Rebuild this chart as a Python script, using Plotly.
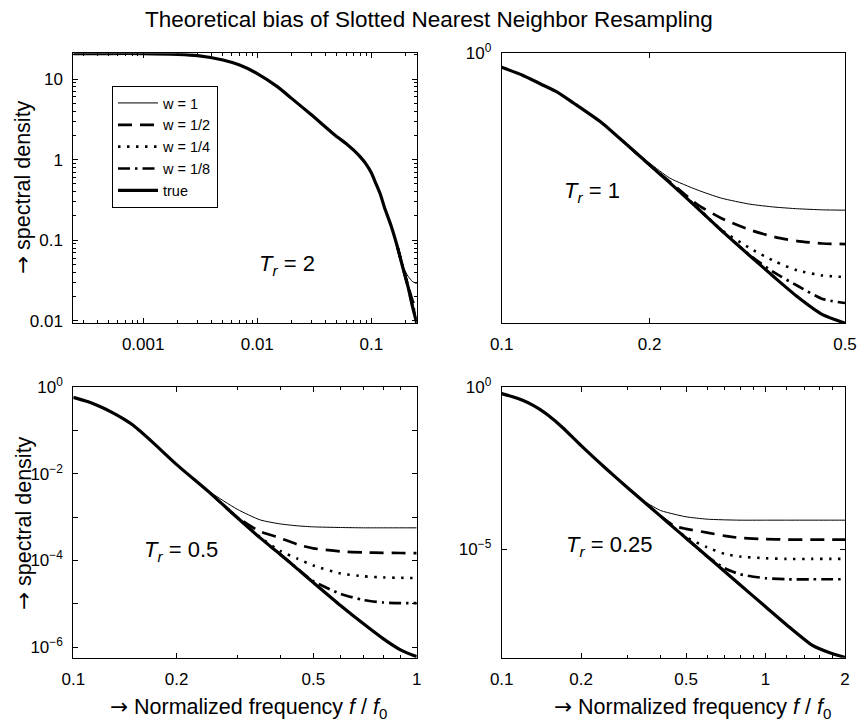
import plotly.graph_objects as go

# ---------------- data ----------------
# Panel Tr = 2
tl_f = [0.000244, 0.0005, 0.001, 0.002, 0.003, 0.005, 0.007, 0.01, 0.015, 0.02, 0.03,
        0.05, 0.06, 0.07, 0.08, 0.09, 0.1, 0.11, 0.12, 0.13, 0.15, 0.17, 0.19, 0.21, 0.23, 0.25]
tl_true = [20.7, 20.7, 20.7, 20.2, 19.5, 17.2, 14.9, 11.7, 8.04, 5.75, 3.57,
           1.92, 1.59, 1.31, 1.08, 0.879, 0.686, 0.50, 0.372, 0.259, 0.147, 0.0811,
           0.0445, 0.0263, 0.0149, 0.0094]
tl_wf = [0.17, 0.19, 0.21, 0.23, 0.25]
tl_w1 = [0.0811, 0.0467, 0.0357, 0.0307, 0.0290]
tl_w2 = [0.0811, 0.0448, 0.0275, 0.0178, 0.0142]
tl_w4 = [0.0811, 0.0445, 0.0266, 0.0158, 0.0108]
tl_w8 = [0.0811, 0.0445, 0.0264, 0.0152, 0.0098]

# Panel Tr = 1
tr_f = [0.1, 0.11, 0.12, 0.13, 0.14, 0.16, 0.18, 0.2, 0.22, 0.25, 0.28, 0.32, 0.36, 0.4, 0.45, 0.5]
tr_true = [0.560, 0.406, 0.280, 0.198, 0.127, 0.0555, 0.0223, 0.0097, 0.0046, 0.00163, 0.00064,
           0.000223, 0.0000893, 0.0000406, 0.0000193, 0.0000136]
tr_w1_f = [0.18, 0.2, 0.22, 0.25, 0.28, 0.32, 0.36, 0.4, 0.45, 0.5]
tr_w1 = [0.0223, 0.0105, 0.0056, 0.00344, 0.00244, 0.0019, 0.00168, 0.00157, 0.0015, 0.00148]
tr_w2_f = [0.18, 0.2, 0.22, 0.25, 0.28, 0.32, 0.36, 0.4, 0.45, 0.5]
tr_w2 = [0.0223, 0.0097, 0.0048, 0.00189, 0.00106, 0.000655, 0.000484, 0.00041, 0.000371, 0.000362]
tr_w4_f = [0.22, 0.25, 0.28, 0.32, 0.36, 0.4, 0.45, 0.5]
tr_w4 = [0.0046, 0.00167, 0.000655, 0.000306, 0.000176, 0.000121, 0.0000984, 0.000092]
tr_w8_f = [0.25, 0.28, 0.32, 0.36, 0.4, 0.45, 0.5]
tr_w8 = [0.00163, 0.00064, 0.000228, 0.000109, 0.0000641, 0.000037, 0.0000313]

# Panel Tr = 0.5
bl_f = [0.1, 0.11, 0.12, 0.13, 0.14, 0.15, 0.17, 0.2, 0.25, 0.3, 0.35, 0.4, 0.45, 0.5,
        0.6, 0.7, 0.8, 0.9, 1.0]
bl_true = [0.587, 0.468, 0.355, 0.260, 0.186, 0.129, 0.0543, 0.0164, 0.00365, 0.000982,
           0.000333, 0.00014, 0.0000631, 0.000031, 9.16e-6, 3.45e-6, 1.55e-6, 8.5e-7, 6.0e-7]
bl_w1_f = [0.2, 0.25, 0.3, 0.35, 0.4, 0.45, 0.5, 0.6, 0.7, 0.8, 0.9, 1.0]
bl_w1 = [0.0164, 0.00385, 0.00153, 0.000867, 0.000701, 0.000631, 0.000598, 0.000578,
         0.000568, 0.000568, 0.000568, 0.000568]
bl_w2_f = [0.25, 0.3, 0.35, 0.4, 0.45, 0.5, 0.6, 0.7, 0.8, 0.9, 1.0]
bl_w2 = [0.00365, 0.00100, 0.000468, 0.000331, 0.000234, 0.000191, 0.000162, 0.000153,
         0.000150, 0.000149, 0.000148]
bl_w4_f = [0.3, 0.35, 0.4, 0.45, 0.5, 0.6, 0.7, 0.8, 0.9, 1.0]
bl_w4 = [0.000982, 0.000347, 0.000166, 0.00011, 0.0000767, 0.0000501, 0.0000432,
         0.0000407, 0.0000398, 0.0000391]
bl_w8_f = [0.4, 0.45, 0.5, 0.6, 0.7, 0.8, 0.9, 1.0]
bl_w8 = [0.00014, 0.0000646, 0.0000333, 0.0000170, 0.0000122, 0.0000107, 0.0000104, 0.0000104]

# Panel Tr = 0.25
br_f = [0.1, 0.11, 0.12, 0.13, 0.14, 0.15, 0.17, 0.2, 0.25, 0.3, 0.35, 0.4, 0.45, 0.5,
        0.6, 0.7, 0.8, 1.0, 1.2, 1.5, 1.75, 2.0]
br_true = [0.637, 0.513, 0.398, 0.292, 0.204, 0.136, 0.0575, 0.0158, 0.00295, 0.000794,
           0.000267, 0.000105, 0.0000457, 0.0000219, 6.08e-6, 2.04e-6, 7.98e-7, 1.67e-7,
           4.68e-8, 1.10e-8, 6.37e-9, 4.57e-9]
br_w1_f = [0.3, 0.35, 0.4, 0.45, 0.5, 0.6, 0.7, 0.8, 1.0, 1.2, 1.5, 1.75, 2.0]
br_w1 = [0.000794, 0.000291, 0.000157, 0.000121, 0.0001, 0.0000847, 0.0000807, 0.0000789,
         0.0000789, 0.0000789, 0.0000789, 0.0000789, 0.0000789]
br_w2_f = [0.4, 0.45, 0.5, 0.6, 0.7, 0.8, 1.0, 1.2, 1.5, 1.75, 2.0]
br_w2 = [0.000105, 0.0000527, 0.0000426, 0.0000327, 0.0000258, 0.0000224, 0.0000204,
         0.0000199, 0.0000199, 0.0000199, 0.0000199]
br_w4_f = [0.45, 0.5, 0.6, 0.7, 0.8, 1.0, 1.2, 1.5, 1.75, 2.0]
br_w4 = [0.0000457, 0.0000235, 0.0000115, 7.18e-6, 5.93e-6, 5.27e-6, 5.02e-6, 5.02e-6,
         5.02e-6, 5.02e-6]
br_w8_f = [0.5, 0.6, 0.7, 0.8, 1.0, 1.2, 1.5, 1.75, 2.0]
br_w8 = [0.0000219, 6.08e-6, 2.58e-6, 1.69e-6, 1.27e-6, 1.18e-6, 1.18e-6, 1.18e-6, 1.18e-6]

series_names = ["w = 1", "w = 1/2", "w = 1/4", "w = 1/8", "true"]
panel_labels = ["2", "1", "0.5", "0.25"]

# ---------------- figure ----------------
W, H = 859, 728
FONT = "Liberation Sans, Arial, Helvetica, sans-serif"
ARROW = '<span style="font-family:DejaVu Sans">\u2192</span>'


def fx(px):
    return px / W


def fy(py):
    return 1 - py / H


styles = {
    "w = 1": dict(width=1.0, dash="solid"),
    "w = 1/2": dict(width=2.7, dash="14px,8px"),
    "w = 1/4": dict(width=2.6, dash="2.5px,6.5px"),
    "w = 1/8": dict(width=2.7, dash="12px,5px,2.5px,5px"),
    "true": dict(width=3.2, dash="solid"),
}

panels = [
    ("x", "y", [(tl_wf, tl_w1), (tl_wf, tl_w2), (tl_wf, tl_w4), (tl_wf, tl_w8), (tl_f, tl_true)]),
    ("x2", "y2", [(tr_w1_f, tr_w1), (tr_w2_f, tr_w2), (tr_w4_f, tr_w4), (tr_w8_f, tr_w8), (tr_f, tr_true)]),
    ("x3", "y3", [(bl_w1_f, bl_w1), (bl_w2_f, bl_w2), (bl_w4_f, bl_w4), (bl_w8_f, bl_w8), (bl_f, bl_true)]),
    ("x4", "y4", [(br_w1_f, br_w1), (br_w2_f, br_w2), (br_w4_f, br_w4), (br_w8_f, br_w8), (br_f, br_true)]),
]

fig = go.Figure()
for pi, (xa, ya, sers) in enumerate(panels):
    for name, (xs, ys) in zip(series_names, sers):
        st = styles[name]
        fig.add_trace(go.Scatter(
            x=xs, y=ys, mode="lines", name=name, xaxis=xa, yaxis=ya,
            line=dict(color="black", width=st["width"], dash=st["dash"], shape="spline", smoothing=0.6),
            showlegend=(pi == 0), hoverinfo="skip",
        ))

# axis geometry (reference pixels)
XL = [73.3, 416.7]
XR = [501.7, 845.0]
YT = [53.3, 323.0]
YB = [387.3, 657.7]


def dom_x(a):
    return [fx(a[0]), fx(a[1])]


def dom_y(a):
    return [fy(a[1]), fy(a[0])]


def axis(domain, rng, tickvals, ticktext, minor_vals=None, anchor=None, minor_len=3):
    d = dict(
        type="log", domain=domain, range=rng, tickmode="array",
        tickvals=tickvals, ticktext=ticktext, ticks="inside", ticklen=5,
        tickwidth=1, tickcolor="black", showline=True, linecolor="black",
        linewidth=1, mirror="allticks", showgrid=False, zeroline=False,
        tickfont=dict(family=FONT, size=17, color="black"), anchor=anchor,
        ticklabelstandoff=6, automargin=False, fixedrange=True,
    )
    if minor_vals:
        d["minor"] = dict(tickmode="array", tickvals=minor_vals, ticks="inside",
                          ticklen=minor_len, tickwidth=1, tickcolor="black", showgrid=False)
    return d


def sup(e):
    return "10<sup>%s</sup>" % (str(e).replace("-", "\u2212"))


tl_minor_x = [m * 10 ** e for e in (-4, -3, -2, -1) for m in range(2, 10) if 0.000244 < m * 10 ** e < 0.25]
tl_minor_y = [m * 10 ** e for e in (-2, -1, 0, 1) for m in range(2, 10) if 0.0095 < m * 10 ** e < 20.8]
bl_minor_x = [0.3, 0.4, 0.6, 0.7, 0.8, 0.9]
bl_minor_y = [1e-1, 1e-3, 1e-5]
br_minor_x = [0.3, 0.4, 0.6, 0.7, 0.8, 0.9, 1.2, 1.4, 1.6, 1.8]

fig.update_layout(
    template="none",
    width=W, height=H, margin=dict(l=0, r=0, t=0, b=0, autoexpand=False),
    paper_bgcolor="white", plot_bgcolor="white",
    font=dict(family=FONT, color="black"),
    xaxis=axis(dom_x(XL), [-3.6126, -0.6021], [0.001, 0.01, 0.1], ["0.001", "0.01", "0.1"], tl_minor_x, "y"),
    yaxis=axis(dom_y(YT), [-2.027, 1.319], [0.01, 0.1, 1, 10], ["0.01", "0.1", "1", "10"], tl_minor_y, "x"),
    xaxis2=axis(dom_x(XR), [-1, -0.30103], [0.1, 0.2, 0.5], ["0.1", "0.2", "0.5"], None, "y2"),
    yaxis2=axis(dom_y(YT), [-4.865, 0], [1], [sup(0)], None, "x2"),
    xaxis3=axis(dom_x(XL), [-1, 0], [0.1, 0.2, 0.5, 1], ["0.1", "0.2", "0.5", "1"], bl_minor_x, "y3"),
    yaxis3=axis(dom_y(YB), [-6.245, 0], [1, 1e-2, 1e-4, 1e-6],
                [sup(0), sup(-2), sup(-4), sup(-6)], bl_minor_y, "x3", minor_len=5),
    xaxis4=axis(dom_x(XR), [-1, 0.30103], [0.1, 0.2, 0.5, 1, 2], ["0.1", "0.2", "0.5", "1", "2"], br_minor_x, "y4"),
    yaxis4=axis(dom_y(YB), [-8.35, 0], [1, 1e-5], [sup(0), sup(-5)], None, "x4"),
    legend=dict(
        x=fx(112), y=fy(86), xanchor="left", yanchor="top",
        bordercolor="black", borderwidth=1, bgcolor="white",
        font=dict(family=FONT, size=14.5, color="black"),
        itemwidth=40, tracegroupgap=0,
    ),
    showlegend=True,
)

ann = []
ann.append(dict(text="Theoretical bias of Slotted Nearest Neighbor Resampling",
                x=fx(429), y=fy(19), xref="paper", yref="paper", showarrow=False,
                xanchor="center", yanchor="middle", font=dict(family=FONT, size=22.5, color="black")))
tr_pos = [(256.7, 265), (561.7, 192), (141.7, 550.5), (564, 546)]
for lab, (px, py) in zip(panel_labels, tr_pos):
    ann.append(dict(text="<i>T</i><sub><i>r</i></sub> = " + lab, x=fx(px), y=fy(py),
                    xref="paper", yref="paper", showarrow=False, xanchor="left",
                    yanchor="middle", font=dict(family=FONT, size=22, color="black")))
for cy in (187, 523):
    ann.append(dict(text=ARROW + " spectral density", x=fx(23), y=fy(cy), xref="paper", yref="paper",
                    showarrow=False, textangle=-90, xanchor="center", yanchor="middle",
                    font=dict(family=FONT, size=21.5, color="black")))
for cx in (248, 692):
    ann.append(dict(text=ARROW + " Normalized frequency <i>f</i> / <i>f</i><sub>0</sub>", x=fx(cx), y=fy(708),
                    xref="paper", yref="paper", showarrow=False, xanchor="center", yanchor="middle",
                    font=dict(family=FONT, size=21.5, color="black")))
fig.update_layout(annotations=ann)

# remove the browser's default page margin so the 859x728 figure fills the window exactly
fig.write_html("out.html",
               config={"displayModeBar": False, "staticPlot": False},
               post_script="document.body.style.margin='0px';document.body.style.overflow='hidden';")
